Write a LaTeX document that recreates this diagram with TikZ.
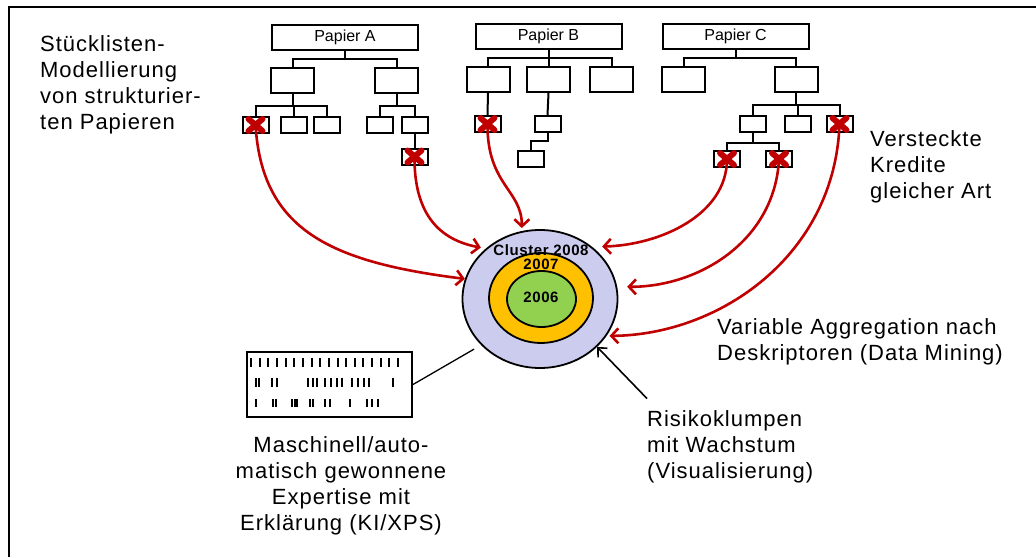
\documentclass[tikz,border=0pt]{standalone}
\usepackage{fontspec}
\setmainfont{Liberation Sans}
\newfontfamily\spaced{Liberation Sans}[LetterSpace=4.5]
\newfontfamily\spacedbold{Liberation Sans Bold}[LetterSpace=4]
\usepackage{xcolor}
\usepackage{tikz}
\usetikzlibrary{shapes.geometric, arrows.meta, positioning, calc}
\definecolor{crossred}{RGB}{192, 0, 0}
\definecolor{lavender}{RGB}{204, 204, 238}
\definecolor{amber}{RGB}{255, 192, 0}
\definecolor{lime}{RGB}{146, 208, 80}
\newcommand{\hitmark}[1]{%
  \draw[crossred, line width=6pt, line cap=round]
    ($(#1.center)+(-7,-6)$) -- ($(#1.center)+(7,6)$)
    ($(#1.center)+(-7,6)$) -- ($(#1.center)+(7,-6)$);}

\begin{document}
\begin{tikzpicture}[
    x=1pt, y=-1pt,
    part/.style={rectangle, draw=black, fill=white, line width=2pt, inner sep=0pt},
    paper/.style={part, minimum width=146pt, minimum height=25pt,
                  font=\fontsize{16}{18}\selectfont},
    sub/.style={part, minimum width=43pt, minimum height=25pt},
    leaf/.style={part, minimum width=26pt, minimum height=16pt},
    tree/.style={line width=2pt},
    caption/.style={font=\spaced\fontsize{22}{26}\selectfont, inner sep=0pt,
                    align=left, anchor=west},
    ring/.style={ellipse, draw=black, line width=1.8pt, inner sep=0pt},
    year/.style={font=\spacedbold\fontsize{15}{16}\selectfont, inner sep=0pt},
    feed/.style={-{Straight Barb[length=7pt, width=15pt]}, crossred, line width=2.6pt},
    pointer/.style={-{Straight Barb[length=7pt, width=13pt]}, black, line width=1.6pt},
    tick/.style={line width=2pt}
]
\useasboundingbox (0,0) rectangle (1036,557);

% Frame
\draw[line width=2.2pt] (9,557) -- (9,7) -- (1036,7);

% Papier A
\node[paper] (papA) at (345,37.5) {Papier A};
\node[sub] (a1) at (292.5,80.5) {};
\node[sub] (a2) at (396.5,80.5) {};
\node[leaf] (a1x) at (255.5,125) {};
\node[leaf] (a1y) at (294,125) {};
\node[leaf] (a1z) at (327,125) {};
\node[leaf] (a2x) at (379.5,125) {};
\node[leaf] (a2y) at (414.5,125) {};
\node[leaf] (a2y1) at (414.5,156.5) {};

% Papier B
\node[paper] (papB) at (548.5,36.5) {Papier B};
\node[sub] (b1) at (488,79.5) {};
\node[sub] (b2) at (548.5,79.5) {};
\node[sub] (b3) at (611.5,79.5) {};
\node[leaf] (b1x) at (487.5,124) {};
\node[leaf] (b2x) at (547.5,124) {};
\node[leaf] (b2x1) at (531,158.5) {};

% Papier C
\node[paper] (papC) at (735.5,36.5) {Papier C};
\node[sub] (c1) at (683.5,79) {};
\node[sub] (c2) at (796,79) {};
\node[leaf] (c2x) at (752.5,124) {};
\node[leaf] (c2y) at (797.5,124) {};
\node[leaf] (c2z) at (839.5,124) {};
\node[leaf] (c2x1) at (727,159) {};
\node[leaf] (c2x2) at (779,159) {};

% Tree lines
\draw[tree] (papA.south) -- ++(0,8) coordinate (busA);
\draw[tree] (a1.north) |- (busA) -| (a2.north);
\draw[tree] (a1.south) -- ++(0,12) coordinate (busA1);
\draw[tree] (a1x.north) |- (busA1) -| (a1z.north);
\draw[tree] (busA1) -| (a1y.north);
\draw[tree] (a2.south) -- ++(0,12) coordinate (busA2);
\draw[tree] (a2x.north) |- (busA2) -| (a2y.north);
\draw[tree] (a2y.south) -- (a2y1.north);

\draw[tree] (papB.south) -- ++(0,8) coordinate (busB);
\draw[tree] (b1.north) |- (busB) -| (b3.north);
\draw[tree] (busB) -- (b2.north);
\draw[tree] (b1.south) -- (b1x.north);
\draw[tree] (b2.south) -- (b2x.north);
\draw[tree] (b2x.south) -- ++(0,8) -| (b2x1.north);

\draw[tree] (papC.south) -- ++(0,8) coordinate (busC);
\draw[tree] (c1.north) |- (busC) -| (c2.north);
\draw[tree] (c2.south) -- ++(0,12) coordinate (busC2);
\draw[tree] (c2x.north) |- (busC2) -| (c2z.north);
\draw[tree] (busC2) -| (c2y.north);
\draw[tree] (c2x.south) -- ++(0,10) coordinate (busC2x);
\draw[tree] (c2x1.north) |- (busC2x) -| (c2x2.north);

% Cluster rings
\node[ring, fill=lavender, minimum width=155pt, minimum height=138pt] (c08) at (540,299) {};
\node[ring, fill=amber, minimum width=104pt, minimum height=90pt] (c07) at (541,298) {};
\node[ring, fill=lime, minimum width=69pt, minimum height=56pt] (c06) at (541.5,299) {};
\node[year] (y08) at (541,250.5) {Cluster 2008};
\node[year] (y07) at (541,264.5) {2007};
\node[year] (y06) at (541,297.5) {2006};

% Red arrows
\draw[feed] (a1x.center) .. controls (262,230) and (330,262) .. (c08.165);
\draw[feed, shorten >=5pt] (a2y1.center) .. controls (414,215) and (440,240) .. (c08.137);
\draw[feed, shorten >=3pt] (b1x.center) .. controls (487,185) and (522,190) .. (c08.105);
\draw[feed, shorten >=10pt] (c2x1.center) .. controls (727,215) and (660,245) .. (c08.45);
\draw[feed, shorten >=10pt] (c2x2.center) .. controls (775,240) and (700,287) .. (c08.9);
\draw[feed, shorten >=3pt] (c2z.center) .. controls (835,255) and (720,335) .. (c08.331);

% Crosses
\hitmark{a1x}
\hitmark{a2y1}
\hitmark{b1x}
\hitmark{c2z}
\hitmark{c2x1}
\hitmark{c2x2}

% Barcode box
\node[part, minimum width=165pt, minimum height=65pt] (codes) at (329.5,384.5) {};
\foreach \i in {0,...,17}
  \draw[tick] (251+8.65*\i,358) -- ++(0,9);
\foreach \x in {256,259,272,277,308,313,317,325,331,337,342,352,358,364,369,393}
  \draw[tick] (\x,378) -- ++(0,9);
\foreach \x in {256,273,276,292,294.5,297,310,313,325,330,350,367,372,378}
  \draw[tick] (\x,399) -- ++(0,8);
\draw[line width=1.3pt, shorten >=8pt] (codes.east) -- (c08.218);

% Captions
\node[caption] (stueck) at (40,84.5) {Stücklisten-\\Modellierung\\von strukturier-\\ten Papieren};
\node[caption] (versteckt) at (870,167) {Versteckte\\Kredite\\gleicher Art};
\node[caption] (aggreg) at (717,341.5) {Variable Aggregation nach\\Deskriptoren (Data Mining)};
\node[caption] (risiko) at (647,447) {Risikoklumpen\\mit Wachstum\\(Visualisierung)};
\node[caption, align=center, anchor=center] (expertise) at (341,486)
  {Maschinell/auto-\\matisch gewonnene\\Expertise mit\\Erklärung (KI/XPS)};

\draw[pointer] ([yshift=12pt]risiko.north west) -- (c08.320);

\end{tikzpicture}
\end{document}
